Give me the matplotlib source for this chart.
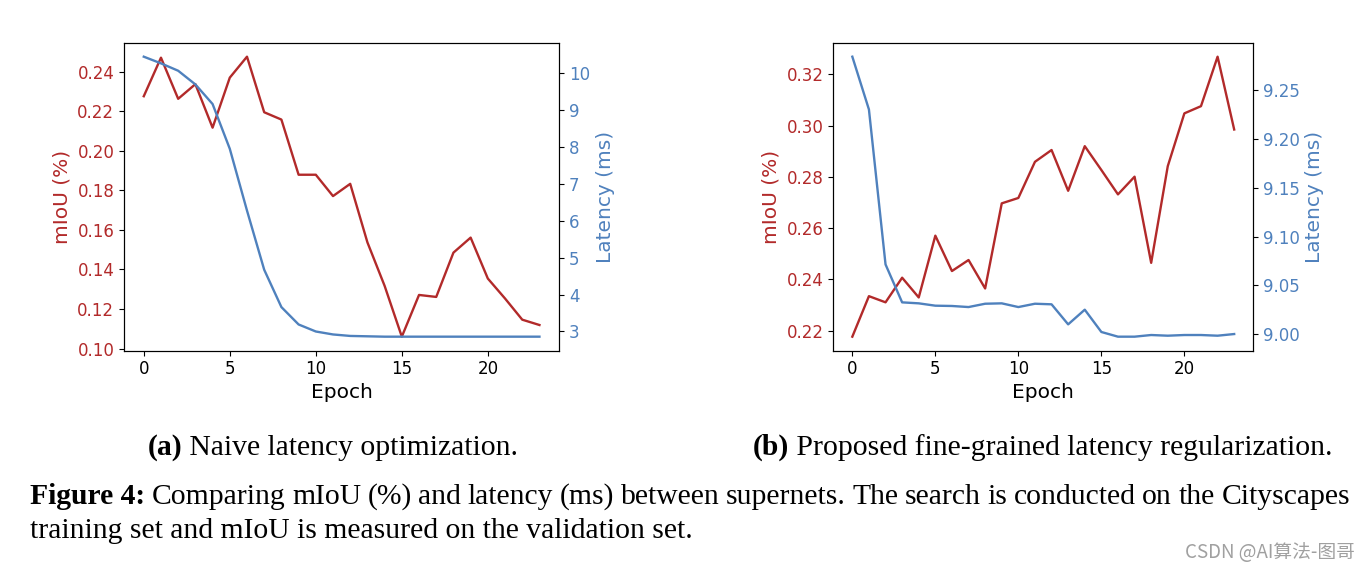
import matplotlib.pyplot as plt

epochs = list(range(24))

# (a) naive latency optimization
miou_a = [0.2276, 0.2471, 0.2263, 0.2337, 0.2117, 0.2370, 0.2476, 0.2195, 0.2158, 0.1879,
          0.1879, 0.1771, 0.1833, 0.1537, 0.1317, 0.1060, 0.1271, 0.1261, 0.1485, 0.1561,
          0.1354, 0.1253, 0.1146, 0.1119]
lat_a = [10.43, 10.25, 10.05, 9.68, 9.15, 7.94, 6.27, 4.67, 3.66, 3.19,
         3.00, 2.92, 2.88, 2.87, 2.86, 2.86, 2.86, 2.86, 2.86, 2.86,
         2.86, 2.86, 2.86, 2.86]

# (b) proposed fine-grained latency regularization
miou_b = [0.2177, 0.2335, 0.2311, 0.2407, 0.2330, 0.2571, 0.2433, 0.2476, 0.2365, 0.2697,
          0.2718, 0.2859, 0.2905, 0.2746, 0.2920, 0.2827, 0.2732, 0.2801, 0.2465, 0.2842,
          0.3048, 0.3076, 0.3269, 0.2985]
lat_b = [9.284, 9.230, 9.0715, 9.0327, 9.0317, 9.0293, 9.0290, 9.0279, 9.0313, 9.0317,
         9.0279, 9.0313, 9.0307, 9.0102, 9.0252, 9.0024, 8.9976, 8.9976, 8.9993, 8.9986,
         8.9993, 8.9993, 8.9986, 9.0003]

sub_a = ["(a)", " Naive latency optimization."]
sub_b = ["(b)", " Proposed fine-grained latency regularization."]
cap1 = "Comparing mIoU (%) and latency (ms) between supernets.  The search is conducted on the Cityscapes"
cap2 = "training set and mIoU is measured on the validation set."

red = '#b22a2a'
blue = '#4f81bd'
serif = 'Liberation Serif'

fig = plt.figure(figsize=(13.70, 5.73), dpi=100)


def panel(rect, miou, lat):
    ax = fig.add_axes(rect)
    ax.plot(epochs, miou, color=red, lw=1.7)
    ax.set_ylabel("mIoU (%)", color=red, fontsize=14.5)
    ax.set_xlabel("Epoch", fontsize=14.5, labelpad=3)
    ax.tick_params(axis='y', labelcolor=red, labelsize=12)
    ax.tick_params(axis='x', labelsize=12)
    ax.set_xticks([0, 5, 10, 15, 20])
    ax2 = ax.twinx()
    ax2.plot(epochs, lat, color=blue, lw=1.7)
    ax2.set_ylabel("Latency (ms)", color=blue, fontsize=14.5)
    ax2.tick_params(axis='y', labelcolor=blue, labelsize=12)
    return ax, ax2


axa, axa2 = panel([0.0905, 0.388, 0.3177, 0.5375], miou_a, lat_a)
axb, axb2 = panel([0.6082, 0.388, 0.3066, 0.5375], miou_b, lat_b)
axb2.set_yticks([9.00, 9.05, 9.10, 9.15, 9.20, 9.25])

r = fig.canvas.get_renderer()
W = fig.bbox.width
FS = 21.3


def width(t, bold=False):
    tt = fig.text(0, 0, t, fontsize=FS, family=serif, fontweight='bold' if bold else 'normal')
    w = tt.get_window_extent(r).width
    tt.remove()
    return w


def subcap(parts, xc, y):
    wb = width(parts[0], True)
    wn = width(parts[1])
    x0 = xc - (wb + wn) / 2
    fig.text(x0 / W, y, parts[0], fontsize=FS, family=serif, fontweight='bold', va='baseline')
    fig.text((x0 + wb) / W, y, parts[1], fontsize=FS, family=serif, va='baseline')


subcap(sub_a, 333, 1 - 455 / 573)
subcap(sub_b, 1043, 1 - 455 / 573)

# caption line 1, justified between x=30 and x=1350
y1 = 1 - 504 / 573
y2 = 1 - 538 / 573
lab = "Figure 4:"
wl = width(lab, True)
fig.text(30 / W, y1, lab, fontsize=FS, family=serif, fontweight='bold', va='baseline')
words = cap1.split()
ws = [width(w) for w in words]
gap = (1350 - 30 - wl - sum(ws)) / len(words)
x = 30 + wl + gap
for w, wd in zip(words, ws):
    fig.text(x / W, y1, w, fontsize=FS, family=serif, va='baseline')
    x += wd + gap
fig.text(30 / W, y2, cap2, fontsize=FS, family=serif, va='baseline')

fig.text(1355 / W, 1 - 553 / 573, "CSDN @AI算法-图哥", fontsize=13.5, color='#a0a0a0',
         family=['Noto Sans CJK SC', 'DejaVu Sans'], ha='right', va='center')

fig.savefig("out.png", dpi=100)
